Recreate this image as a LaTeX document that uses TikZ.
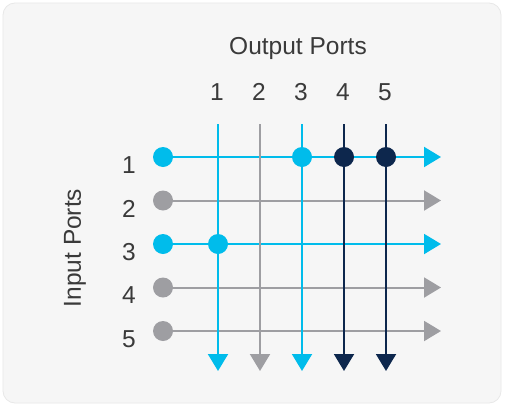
\documentclass[tikz,border=0pt]{standalone}
\usepackage{fontspec}
\setmainfont{Liberation Sans}
\usetikzlibrary{arrows.meta}
\definecolor{cyanc}{HTML}{00BCEB}
\definecolor{grayc}{HTML}{9E9EA2}
\definecolor{navyc}{HTML}{0D274D}
\definecolor{bgc}{HTML}{F6F6F6}
\definecolor{bordc}{HTML}{E8E8E8}
\definecolor{txtc}{HTML}{3A3A3A}
\tikzset{
  wire/.style={line width=2pt},
  tipped/.style={-{Triangle[length=17pt,width=20pt]}},
  dotc/.style={circle, inner sep=0pt, minimum size=20pt, fill=#1},
  lbl/.style={text=txtc, font=\fontsize{24.5}{26}\selectfont, inner sep=0pt},
}
\begin{document}
\begin{tikzpicture}[x=1pt,y=-1pt]
\useasboundingbox (0,0) rectangle (505,407);
\fill[white] (0,0) rectangle (505,407);
\draw[fill=bgc, draw=bordc, line width=0.8pt, rounded corners=12pt] (3,3) rectangle (501,403);
% titles
\node[lbl] (outtitle) at (298,48) {Output Ports};
\node[lbl, rotate=90] (intitle) at (75,248) {Input Ports};
% column labels and coordinates
\foreach \j/\x in {1/218,2/260,3/302,4/344,5/386}{
  \node[lbl] (cl\j) at (\x-1,92) {\j};
  \coordinate (cs\j) at (\x,124);
  \coordinate (ce\j) at (\x,371);
}
% row labels, input dots coordinates
\foreach \i/\y in {1/157,2/200.5,3/244,4/287.5,5/331}{
  \node[lbl] (rl\i) at (129,\y+8) {\i};
  \coordinate (rs\i) at (163,\y);
  \coordinate (re\i) at (441,\y);
}
% horizontal wires
\foreach \i/\c in {1/cyanc,2/grayc,3/cyanc,4/grayc,5/grayc}{
  \draw[wire, tipped, \c] (rs\i) -- (re\i);
}
% vertical wires
\foreach \j/\c in {1/cyanc,2/grayc,3/cyanc,4/navyc,5/navyc}{
  \draw[wire, tipped, \c] (cs\j) -- (ce\j);
}
% input dots
\foreach \i/\c in {1/cyanc,2/grayc,3/cyanc,4/grayc,5/grayc}{
  \node[dotc=\c] (in\i) at (rs\i) {};
}
% crosspoint dots
\node[dotc=cyanc] (x13) at (cs3 |- rs1) {};
\node[dotc=navyc] (x14) at (cs4 |- rs1) {};
\node[dotc=navyc] (x15) at (cs5 |- rs1) {};
\node[dotc=cyanc] (x31) at (cs1 |- rs3) {};
\end{tikzpicture}
\end{document}
